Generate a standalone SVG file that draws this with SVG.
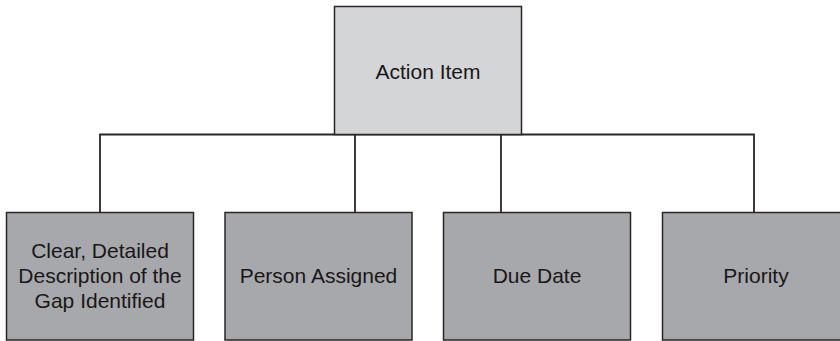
<svg xmlns="http://www.w3.org/2000/svg" width="840" height="341" viewBox="0 0 840 341">
<style>
.box{stroke:#2a2627;stroke-width:1.5}
.top{fill:#d4d5d7}
.child{fill:#a7a8ab}
.lbl{font-family:"Liberation Sans",Arial,sans-serif;font-size:21px;fill:#1a1718;text-anchor:middle}
.conn{fill:none;stroke:#2a2627;stroke-width:1.8}
</style>
<rect width="840" height="341" fill="#ffffff"/>
<g id="connectors">
<path class="conn" d="M100,212 V134.5 H754 V212"/>
<path class="conn" d="M355,134.5 V212"/>
<path class="conn" d="M501,134.5 V212"/>
</g>
<g id="action-item">
<rect class="box top" x="334.5" y="6.5" width="187" height="128"/>
<text class="lbl" x="428" y="78.5">Action Item</text>
</g>
<g id="description">
<rect class="box child" x="6.5" y="212.5" width="187" height="127.5"/>
<text class="lbl" x="100" y="257.5">Clear, Detailed</text>
<text class="lbl" x="100" y="283">Description of the</text>
<text class="lbl" x="100" y="308">Gap Identified</text>
</g>
<g id="person">
<rect class="box child" x="225" y="212.5" width="187" height="127.5"/>
<text class="lbl" x="318.5" y="283">Person Assigned</text>
</g>
<g id="due-date">
<rect class="box child" x="443.5" y="212.5" width="187" height="127.5"/>
<text class="lbl" x="537" y="283">Due Date</text>
</g>
<g id="priority">
<rect class="box child" x="662.5" y="212.5" width="187" height="127.5"/>
<text class="lbl" x="756" y="283">Priority</text>
</g>
</svg>
